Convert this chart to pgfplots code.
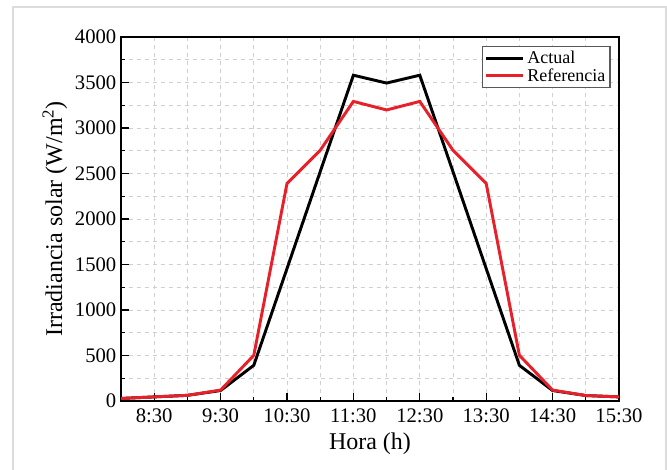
\documentclass[border=0pt]{standalone}
\usepackage{pgfplots}
\pgfplotsset{compat=1.18}
\usepackage{fontspec}
\setmainfont{Liberation Serif}
\definecolor{redline}{HTML}{E8202A}
\definecolor{gridgray}{HTML}{CFCFCF}
\definecolor{framegray}{HTML}{DCDCDC}

\pgfplotstableread{
h     actual  ref
8.0   28      28
8.5   45      45
9.0   62      62
9.5   115     120
10.0  392     502
10.5  1455    2390
11.0  2520    2755
11.5  3580    3292
12.0  3494    3198
12.5  3580    3292
13.0  2520    2755
13.5  1455    2390
14.0  392     502
14.5  115     120
15.0  60      60
15.5  45      45
}\irr

\begin{document}
\begin{tikzpicture}
\useasboundingbox (0pt,0pt) rectangle (500.25pt,352.5pt);
\draw[framegray,line width=1.2pt] (9.75pt,0pt) -- (9.75pt,347.25pt) -- (499.5pt,347.25pt) -- (499.5pt,0pt);
\begin{axis}[
  at={(90.75pt,51.75pt)}, anchor=south west,
  scale only axis, width=373.5pt, height=273pt,
  xmin=8, xmax=15.5, ymin=0, ymax=4000,
  xtick={8.5,9.5,...,15.5},
  xticklabels={8:30,9:30,10:30,11:30,12:30,13:30,14:30,15:30},
  minor xtick={8,9,...,15},
  ytick={0,500,...,4000},
  minor ytick={250,750,...,3750},
  tick align=inside,
  xtick pos=bottom, ytick pos=left,
  major tick length=6pt, minor tick length=3pt,
  tick style={black, line width=0.9pt},
  axis line style={line width=1.1pt},
  grid=both,
  major grid style={gridgray, dashed, line width=0.6pt},
  minor grid style={gridgray, dashed, line width=0.6pt},
  /pgf/number format/assume math mode=true,
  /pgf/number format/1000 sep={},
  tick label style={font=\fontsize{15.5}{17}\selectfont},
  xticklabel style={yshift=-2pt},
  xlabel={Hora (h)},
  ylabel={Irradiancia solar (W/m\textsuperscript{2})},
  label style={font=\fontsize{18}{21}\selectfont},
  xlabel style={yshift=-1pt},
  ylabel style={yshift=-1pt},
  legend style={at={(0.983,0.975)}, anchor=north east, draw=black!65, line width=0.8pt,
    font=\fontsize{13.5}{15}\selectfont, inner sep=1.5pt, row sep=-2pt},
  legend cell align=left,
  legend image code/.code={\draw[#1, line width=2.2pt] (0pt,0pt) -- (28pt,0pt);},
]
\addplot[black, line width=2.2pt] table[x=h, y=actual] {\irr};
\addlegendentry{Actual}
\addplot[redline, line width=2.2pt] table[x=h, y=ref] {\irr};
\addlegendentry{Referencia}
\end{axis}
\end{tikzpicture}
\end{document}
